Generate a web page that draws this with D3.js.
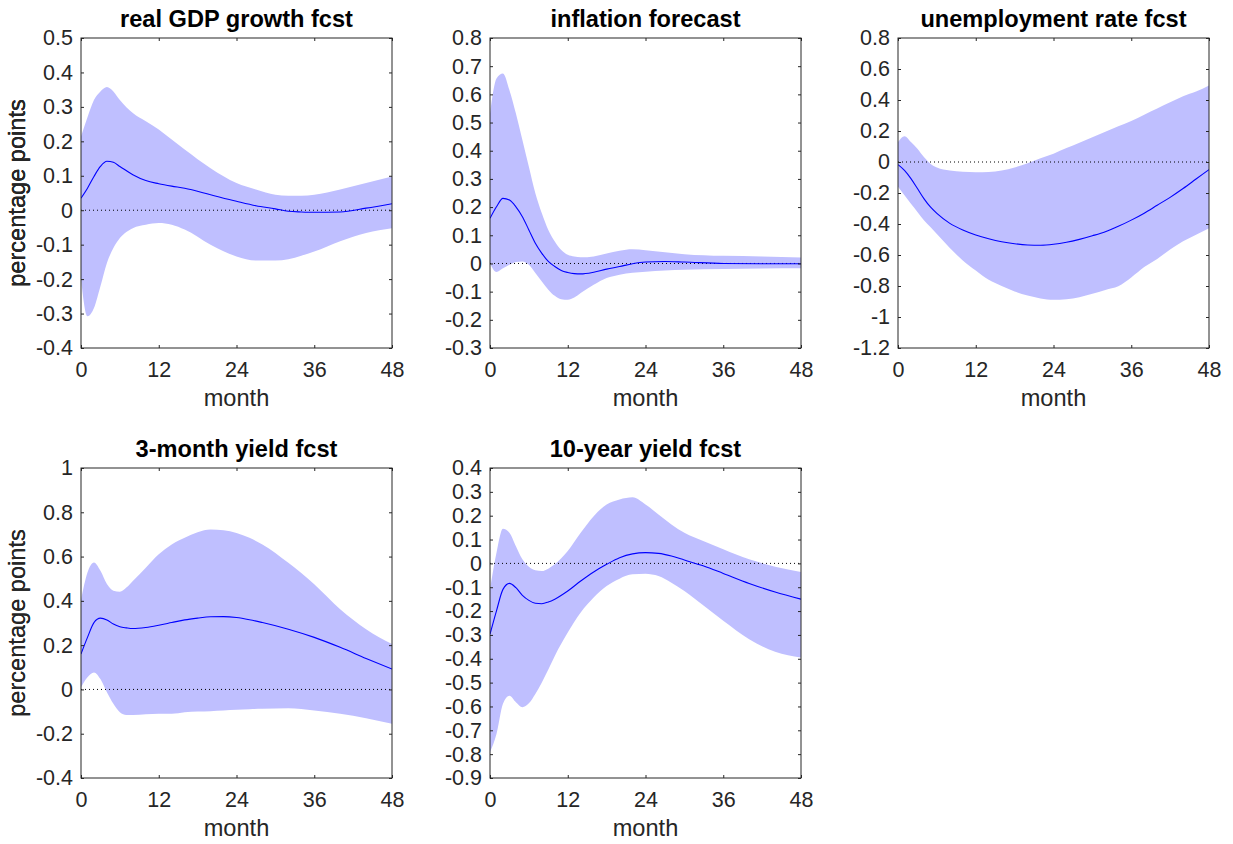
<!DOCTYPE html>
<html>
<head>
<meta charset="utf-8">
<script src="https://cdn.jsdelivr.net/npm/d3@7"></script>
<style>
  body { margin: 0; background: #fff; }
  svg { display: block; }
  text { font-family: "Liberation Sans", Arial, Helvetica, sans-serif; }
</style>
</head>
<body>
<div id="chart"></div>
<script>
// ---- data (percentage points by month) ----
const gdpMonths  = [0, 1, 2, 3, 4, 5, 6, 8, 10, 12, 14, 16, 20, 24, 27, 30, 32, 34, 36, 40, 44, 48];
const gdpUpper   = [0.214, 0.27, 0.32, 0.345, 0.358, 0.345, 0.32, 0.282, 0.258, 0.234, 0.205, 0.176, 0.122, 0.079, 0.06, 0.045, 0.042, 0.042, 0.045, 0.06, 0.079, 0.098];
const gdpLower   = [-0.2, -0.308, -0.284, -0.221, -0.153, -0.11, -0.081, -0.052, -0.042, -0.037, -0.042, -0.056, -0.1, -0.134, -0.146, -0.146, -0.142, -0.132, -0.12, -0.09, -0.066, -0.052];
const gdpMedian  = [0.035, 0.064, 0.098, 0.127, 0.142, 0.139, 0.127, 0.103, 0.086, 0.077, 0.07, 0.064, 0.045, 0.026, 0.013, 0.004, -0.003, -0.005, -0.006, -0.005, 0.006, 0.019];

const infMonths  = [0, 1, 2, 3, 4, 5, 6, 7, 8, 9, 10, 11, 12, 13, 14, 16, 18, 20, 22, 24, 27, 30, 36, 42, 48];
const infUpper   = [0.532, 0.656, 0.674, 0.615, 0.532, 0.438, 0.343, 0.249, 0.178, 0.119, 0.078, 0.048, 0.031, 0.025, 0.022, 0.025, 0.035, 0.045, 0.05, 0.047, 0.04, 0.033, 0.027, 0.025, 0.021];
const infLower   = [0.0, -0.03, -0.017, -0.005, 0.005, 0.007, -0.005, -0.034, -0.064, -0.093, -0.115, -0.127, -0.129, -0.121, -0.105, -0.076, -0.052, -0.04, -0.033, -0.029, -0.025, -0.022, -0.02, -0.018, -0.017];
const infMedian  = [0.16, 0.201, 0.231, 0.225, 0.201, 0.166, 0.119, 0.072, 0.036, 0.007, -0.011, -0.025, -0.032, -0.036, -0.037, -0.031, -0.02, -0.011, -0.001, 0.005, 0.007, 0.005, 0.0, -0.001, -0.001];

const unMonths   = [0, 1, 2, 3, 4, 5, 6, 8, 10, 12, 14, 16, 18, 20, 22, 24, 26, 28, 30, 32, 34, 36, 38, 40, 42, 44, 46, 48];
const unUpper    = [0.129, 0.166, 0.129, 0.086, 0.032, -0.011, -0.035, -0.055, -0.063, -0.066, -0.064, -0.055, -0.035, -0.008, 0.025, 0.054, 0.09, 0.125, 0.16, 0.195, 0.23, 0.265, 0.305, 0.345, 0.385, 0.425, 0.455, 0.494];
const unLower    = [-0.16, -0.215, -0.27, -0.322, -0.375, -0.42, -0.465, -0.555, -0.635, -0.7, -0.76, -0.8, -0.835, -0.862, -0.88, -0.889, -0.885, -0.872, -0.85, -0.825, -0.802, -0.745, -0.678, -0.625, -0.565, -0.512, -0.47, -0.428];
const unMedian   = [-0.017, -0.054, -0.107, -0.171, -0.236, -0.29, -0.332, -0.396, -0.439, -0.471, -0.495, -0.514, -0.527, -0.535, -0.537, -0.531, -0.518, -0.499, -0.476, -0.45, -0.415, -0.375, -0.33, -0.279, -0.228, -0.171, -0.11, -0.049];

const y3Months   = [0, 1, 2, 3, 4, 5, 6, 7, 8, 10, 12, 14, 16, 18, 20, 22, 24, 26, 28, 32, 36, 40, 44, 48];
const y3Upper    = [0.404, 0.528, 0.573, 0.536, 0.476, 0.446, 0.441, 0.46, 0.49, 0.55, 0.61, 0.655, 0.685, 0.71, 0.722, 0.719, 0.707, 0.685, 0.655, 0.572, 0.475, 0.362, 0.272, 0.205];
const y3Lower    = [0.01, 0.055, 0.077, 0.047, -0.013, -0.065, -0.103, -0.115, -0.115, -0.112, -0.11, -0.11, -0.103, -0.1, -0.098, -0.095, -0.092, -0.089, -0.087, -0.085, -0.095, -0.11, -0.13, -0.155];
const y3Median   = [0.16, 0.235, 0.302, 0.322, 0.314, 0.295, 0.283, 0.278, 0.275, 0.28, 0.29, 0.302, 0.314, 0.322, 0.328, 0.329, 0.325, 0.315, 0.302, 0.272, 0.235, 0.19, 0.14, 0.092];

const y10Months  = [0, 1, 2, 3, 4, 5, 6, 7, 8, 9, 10, 12, 14, 16, 18, 20, 22, 24, 26, 28, 30, 33, 36, 40, 44, 48];
const y10Upper   = [-0.109, 0.045, 0.145, 0.128, 0.072, 0.017, -0.014, -0.029, -0.032, -0.022, -0.004, 0.052, 0.128, 0.198, 0.247, 0.268, 0.277, 0.247, 0.205, 0.163, 0.128, 0.093, 0.059, 0.017, -0.014, -0.036];
const y10Lower   = [-0.791, -0.715, -0.589, -0.555, -0.582, -0.603, -0.587, -0.548, -0.499, -0.445, -0.388, -0.29, -0.206, -0.143, -0.095, -0.064, -0.046, -0.043, -0.053, -0.081, -0.116, -0.178, -0.241, -0.318, -0.371, -0.395];
const y10Median  = [-0.297, -0.199, -0.109, -0.084, -0.102, -0.134, -0.155, -0.167, -0.169, -0.162, -0.15, -0.116, -0.074, -0.036, -0.004, 0.024, 0.04, 0.045, 0.042, 0.031, 0.014, -0.011, -0.042, -0.084, -0.12, -0.15];

const titles = ["real GDP growth fcst", "inflation forecast", "unemployment rate fcst", "3-month yield fcst", "10-year yield fcst"];
const yDomains = [[-0.4, 0.5], [-0.3, 0.8], [-1.2, 0.8], [-0.4, 1], [-0.9, 0.4]];
const yTicks = [
  d3.range(-4, 6).map(v => v / 10),
  d3.range(-3, 9).map(v => v / 10),
  d3.range(-6, 5).map(v => v / 5),
  d3.range(-2, 6).map(v => v / 5),
  d3.range(-9, 5).map(v => v / 10)
];
const xTicks = [0, 12, 24, 36, 48];

const panels = [
  { months: gdpMonths, upper: gdpUpper, lower: gdpLower, median: gdpMedian },
  { months: infMonths, upper: infUpper, lower: infLower, median: infMedian },
  { months: unMonths,  upper: unUpper,  lower: unLower,  median: unMedian },
  { months: y3Months,  upper: y3Upper,  lower: y3Lower,  median: y3Median },
  { months: y10Months, upper: y10Upper, lower: y10Lower, median: y10Median }
];

// layout
const W = 1233, H = 844;
const lefts = [81, 490, 898], tops = [38, 468];
const pw = 311, ph = 310;
const axisColor = "#262626";

const svg = d3.select("#chart").append("svg")
  .attr("width", W).attr("height", H);

const defs = svg.append("defs");

// matlab style numbers: plain hyphen, no trailing zeros
const fmt = v => (Math.abs(v) < 1e-9 ? "0" : String(+v.toFixed(2)));

panels.forEach((p, i) => {
  const col = i % 3, row = Math.floor(i / 3);
  const g = svg.append("g")
    .attr("transform", "translate(" + lefts[col] + "," + tops[row] + ")");

  const x = d3.scaleLinear().domain([0, 48]).range([0, pw]);
  const y = d3.scaleLinear().domain(yDomains[i]).range([ph, 0]);

  const rows = p.months.map((m, k) => ({ m: m, lo: p.lower[k], hi: p.upper[k], med: p.median[k] }));

  defs.append("clipPath").attr("id", "clip" + i)
    .append("rect").attr("width", pw).attr("height", ph);

  const plot = g.append("g").attr("clip-path", "url(#clip" + i + ")");

  // confidence band
  plot.append("path")
    .datum(rows)
    .attr("fill", "#bfbfff")
    .attr("d", d3.area()
      .curve(d3.curveMonotoneX)
      .x(d => x(d.m))
      .y0(d => y(d.lo))
      .y1(d => y(d.hi)));

  // zero line
  plot.append("line")
    .attr("x1", 0).attr("x2", pw)
    .attr("y1", y(0)).attr("y2", y(0))
    .attr("stroke", "#000")
    .attr("stroke-width", 1)
    .attr("stroke-dasharray", "1,3");

  // median
  plot.append("path")
    .datum(rows)
    .attr("fill", "none")
    .attr("stroke", "#0000ff")
    .attr("stroke-width", 1.1)
    .attr("d", d3.line()
      .curve(d3.curveMonotoneX)
      .x(d => x(d.m))
      .y(d => y(d.med)));

  // axes (ticks inward, on all four sides like a boxed plot)
  const tickLen = 3;

  const left = g.append("g")
    .call(d3.axisLeft(y).tickValues(yTicks[i]).tickSizeInner(-tickLen).tickSizeOuter(0).tickPadding(8).tickFormat(fmt));
  const right = g.append("g").attr("transform", "translate(" + pw + ",0)")
    .call(d3.axisRight(y).tickValues(yTicks[i]).tickSizeInner(-tickLen).tickSizeOuter(0).tickFormat(""));
  const bottom = g.append("g").attr("transform", "translate(0," + ph + ")")
    .call(d3.axisBottom(x).tickValues(xTicks).tickSizeInner(-tickLen).tickSizeOuter(0).tickPadding(14).tickFormat(d => String(d)));
  const top = g.append("g")
    .call(d3.axisTop(x).tickValues(xTicks).tickSizeInner(-tickLen).tickSizeOuter(0).tickFormat(""));

  [left, right, bottom, top].forEach(a => {
    a.select(".domain").remove();
    a.selectAll("line").attr("stroke", axisColor);
    a.selectAll("text")
      .attr("fill", axisColor)
      .style("font-size", "21.5px")
      .style("font-family", "'Liberation Sans', Arial, sans-serif");
  });

  g.append("rect")
    .attr("width", pw).attr("height", ph)
    .attr("fill", "none")
    .attr("stroke", axisColor)
    .attr("stroke-width", 1);

  // title
  g.append("text")
    .attr("x", pw / 2).attr("y", -11)
    .attr("text-anchor", "middle")
    .attr("font-weight", "bold")
    .attr("font-size", 23.6)
    .attr("fill", "#000")
    .text(titles[i]);

  // x label
  g.append("text")
    .attr("x", pw / 2).attr("y", ph + 58)
    .attr("text-anchor", "middle")
    .attr("font-size", 23.6)
    .attr("fill", axisColor)
    .text("month");

  // y label
  g.append("text")
    .attr("transform", "translate(" + (25 - lefts[col]) + "," + (ph / 2) + ") rotate(-90)")
    .attr("text-anchor", "middle")
    .attr("font-size", 23.6)
    .attr("fill", axisColor)
    .text("percentage points");
});
</script>
</body>
</html>
